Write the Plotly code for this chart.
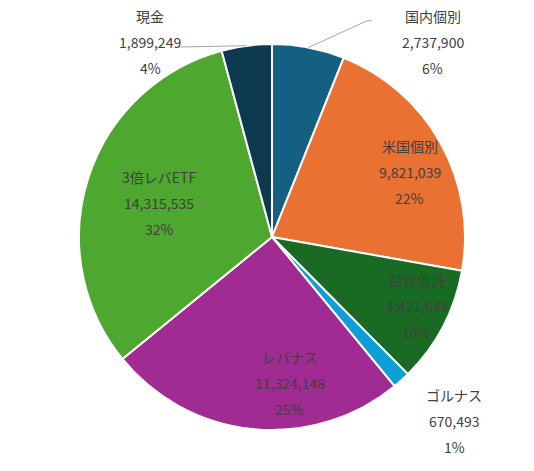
import numpy as np
import plotly.graph_objects as go

# --- data ---
labels = ["国内個別", "米国個別", "投資信託", "ゴルナス", "レバナス", "3倍レバETF", "現金"]
values = [2737900, 9821039, 4421643, 670493, 11324148, 14315535, 1899249]
percents = ["6%", "22%", "10%", "1%", "25%", "32%", "4%"]

# --- style ---
colors = ["#156082", "#E97132", "#196B24", "#0F9ED5", "#A02B93", "#4EA72E", "#0D3A4E"]
# label placement: angle nudge (deg) and radius as a fraction of the pie radius
label_nudge = [28.6, 3.9, -2.3, -2.7, -12.7, -1.0, -24.4]
label_rad = [1.31, 0.79, 0.83, 1.34, 0.76, 0.61, 1.19]
# leader lines for outside labels: (slice index, end points in paper coords)
leaders = {0: [(0.746, 1.060), (0.759, 1.060)], 6: [(0.256, 0.992)]}
TEXT = "#404040"
FONT = "Noto Sans CJK JP"

W, H = 534, 471
ML, MR, MT, MB = 79, 69, 44, 41

total = sum(values)
cum = np.cumsum([0] + values[:-1])
mid = [(c + v / 2) / total * 360 for c, v in zip(cum, values)]

fig = go.Figure(go.Pie(
    labels=labels, values=values, sort=False, direction="clockwise", rotation=0,
    marker=dict(colors=colors, line=dict(color="white", width=2)),
    textinfo="none", hoverinfo="label+value+percent", showlegend=False,
))

annotations = []
shapes = []
for i, lab in enumerate(labels):
    th = np.radians(mid[i] + label_nudge[i])
    x = 0.5 + 0.5 * label_rad[i] * np.sin(th)
    y = 0.5 + 0.5 * label_rad[i] * np.cos(th)
    for k, line in enumerate([lab, f"{values[i]:,}", percents[i]]):
        annotations.append(dict(
            x=x, y=y, xref="paper", yref="paper", text=line, showarrow=False,
            yshift=26 - 26 * k, font=dict(family=FONT, size=14, color=TEXT),
            xanchor="center", yanchor="middle",
        ))
    if i in leaders:
        t = np.radians(mid[i])
        pts = [(0.5 + 0.5 * np.sin(t), 0.5 + 0.5 * np.cos(t))] + leaders[i]
        path = "M " + " L ".join(f"{px},{py}" for px, py in pts)
        shapes.append(dict(type="path", path=path, xref="paper", yref="paper",
                           line=dict(color="#A6A6A6", width=1)))

fig.update_layout(
    width=W, height=H, margin=dict(l=ML, r=MR, t=MT, b=MB),
    paper_bgcolor="white", plot_bgcolor="white",
    annotations=annotations, shapes=shapes,
)

# drop the default 8px page margin so the figure sits at the window's corner
fig.write_html("out.html", config={"displayModeBar": False},
               post_script="document.body.style.margin='0';")
